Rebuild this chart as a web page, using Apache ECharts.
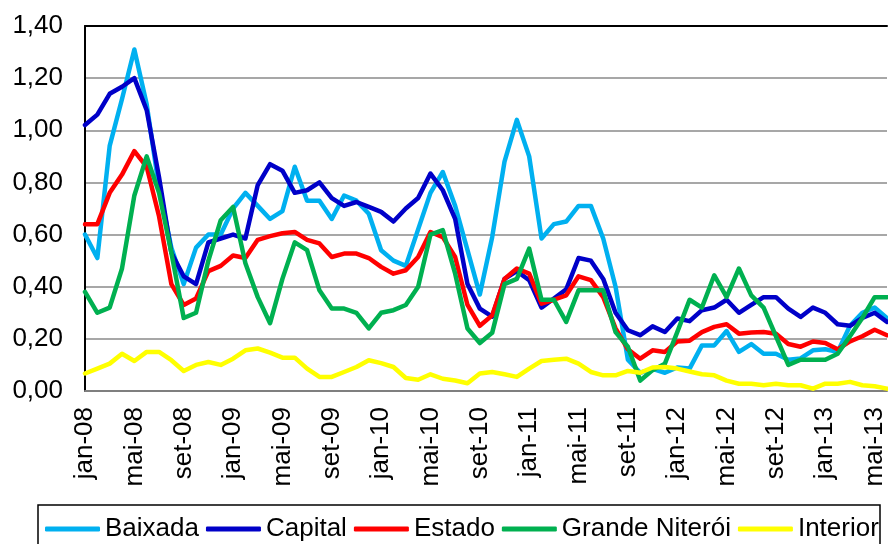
<!DOCTYPE html>
<html style="height:100%">
<head>
    <meta charset="UTF-8">
    <title>Indicadores mensais</title>
    <script src="https://cdn.jsdelivr.net/npm/echarts@6/dist/echarts.min.js"></script>
</head>
<body style="height:100%;margin:0">
<div id="main" style="width:888px;height:544px"></div>
<script>
// meses (jan-08 .. jun-13)
var meses = ['jan', 'fev', 'mar', 'abr', 'mai', 'jun', 'jul', 'ago', 'set', 'out', 'nov', 'dez'];
var anos = ['08', '09', '10', '11', '12', '13'];
var categorias = [];
for (var a = 0; a < anos.length; a++) {
    for (var m = 0; m < 12; m++) {
        if (a == anos.length - 1 && m > 5) break;
        categorias.push(meses[m] + '-' + anos[a]);
    }
}

var baixada = [0.60, 0.51, 0.94, 1.12, 1.31, 1.10, 0.78, 0.55, 0.41, 0.55, 0.60, 0.60,
    0.70, 0.76, 0.71, 0.66, 0.69, 0.86, 0.73, 0.73, 0.66, 0.75, 0.73, 0.68,
    0.54, 0.50, 0.48, 0.62, 0.76, 0.84, 0.71, 0.54, 0.37, 0.59, 0.88, 1.04,
    0.90, 0.585, 0.64, 0.65, 0.71, 0.71, 0.585, 0.40, 0.12, 0.07, 0.085, 0.07,
    0.09, 0.086, 0.175, 0.175, 0.23, 0.15, 0.18, 0.143, 0.143, 0.12, 0.125, 0.156,
    0.16, 0.15, 0.25, 0.30, 0.32, 0.28];
var capital = [1.02, 1.06, 1.14, 1.167, 1.20, 1.077, 0.82, 0.53, 0.44, 0.41, 0.57, 0.585,
    0.60, 0.585, 0.79, 0.87, 0.845, 0.76, 0.77, 0.80, 0.74, 0.71, 0.725, 0.706,
    0.687, 0.65, 0.70, 0.74, 0.834, 0.77, 0.66, 0.41, 0.316, 0.285, 0.43, 0.46,
    0.425, 0.32, 0.355, 0.39, 0.51, 0.50, 0.43, 0.30, 0.233, 0.214, 0.248, 0.226,
    0.278, 0.268, 0.31, 0.32, 0.35, 0.30, 0.33, 0.36, 0.36, 0.316, 0.284, 0.32,
    0.30, 0.256, 0.25, 0.28, 0.30, 0.265];
var estado = [0.64, 0.64, 0.76, 0.83, 0.92, 0.86, 0.67, 0.41, 0.33, 0.355, 0.46, 0.48,
    0.52, 0.51, 0.58, 0.594, 0.605, 0.61, 0.58, 0.566, 0.514, 0.527, 0.527, 0.51,
    0.476, 0.45, 0.463, 0.514, 0.61, 0.59, 0.514, 0.33, 0.25, 0.29, 0.43, 0.47,
    0.45, 0.335, 0.35, 0.367, 0.44, 0.425, 0.36, 0.24, 0.16, 0.124, 0.156, 0.15,
    0.19, 0.193, 0.226, 0.246, 0.256, 0.22, 0.224, 0.226, 0.22, 0.18, 0.17, 0.19,
    0.184, 0.16, 0.19, 0.21, 0.235, 0.214];
var grandeNiteroi = [0.38, 0.30, 0.32, 0.47, 0.75, 0.90, 0.76, 0.53, 0.28, 0.30, 0.50, 0.655,
    0.706, 0.49, 0.36, 0.26, 0.43, 0.57, 0.54, 0.386, 0.316, 0.316, 0.30, 0.24,
    0.30, 0.31, 0.33, 0.40, 0.60, 0.617, 0.45, 0.24, 0.184, 0.223, 0.41, 0.43,
    0.546, 0.35, 0.35, 0.265, 0.386, 0.386, 0.386, 0.226, 0.17, 0.04, 0.08, 0.105,
    0.226, 0.35, 0.32, 0.444, 0.36, 0.47, 0.367, 0.32, 0.21, 0.10, 0.12, 0.12,
    0.12, 0.143, 0.21, 0.28, 0.36, 0.36];
var interior = [0.067, 0.086, 0.105, 0.143, 0.115, 0.15, 0.15, 0.118, 0.077, 0.10, 0.111, 0.10,
    0.124, 0.156, 0.163, 0.147, 0.128, 0.128, 0.086, 0.054, 0.054, 0.073, 0.092, 0.118,
    0.107, 0.092, 0.05, 0.043, 0.064, 0.047, 0.04, 0.03, 0.067, 0.073, 0.064, 0.054,
    0.086, 0.115, 0.12, 0.124, 0.105, 0.073, 0.06, 0.06, 0.077, 0.07, 0.09, 0.092,
    0.086, 0.075, 0.064, 0.06, 0.04, 0.028, 0.028, 0.022, 0.028, 0.022, 0.022, 0.009,
    0.028, 0.028, 0.035, 0.022, 0.018, 0.009];

var nomes = ['Baixada', 'Capital', 'Estado', 'Grande Niterói', 'Interior'];
var cores = ['#00B0F0', '#0000C8', '#FF0000', '#00B050', '#FFFF00'];
var valores = [baixada, capital, estado, grandeNiteroi, interior];

var fonte = '"Liberation Sans", Arial, sans-serif';

var chart = echarts.init(document.getElementById('main'), null, { renderer: 'canvas' });

var series = nomes.map(function (nome, i) {
    return {
        name: nome,
        type: 'line',
        data: valores[i],
        showSymbol: false,
        symbol: 'none',
        animation: false,
        lineStyle: { color: cores[i], width: 4.5, cap: 'round', join: 'round' },
        itemStyle: { color: cores[i] }
    };
});

var option = {
    backgroundColor: '#ffffff',
    animation: false,
    color: cores,
    grid: { left: 85, right: 1, top: 26, bottom: 153 },
    xAxis: [
        {
            type: 'category',
            data: categorias,
            boundaryGap: false,
            axisLine: { lineStyle: { color: '#7f7f7f', width: 2 } },
            axisTick: { show: false },
            axisLabel: {
                interval: 3,
                rotate: 90,
                margin: 16,
                color: '#000',
                fontSize: 26,
                fontFamily: fonte
            },
            splitLine: { show: false }
        },
        {
            type: 'category',
            data: categorias,
            position: 'top',
            boundaryGap: false,
            axisLine: { lineStyle: { color: '#000', width: 2 } },
            axisTick: { show: false },
            axisLabel: { show: false },
            splitLine: { show: false }
        }
    ],
    yAxis: {
        type: 'value',
        min: 0,
        max: 1.4,
        interval: 0.2,
        axisLine: { show: true, lineStyle: { color: '#000', width: 2 } },
        axisTick: { show: false },
        axisLabel: {
            margin: 22,
            color: '#000',
            fontSize: 26,
            fontFamily: fonte,
            formatter: function (v) { return v.toFixed(2).replace('.', ','); }
        },
        splitLine: { lineStyle: { color: '#8a8a8a', width: 1.5 } }
    },
    legend: {
        data: nomes,
        left: 45,
        top: 516,
        padding: 0,
        itemGap: 7,
        itemWidth: 55,
        itemHeight: 5,
        icon: 'roundRect',
        textStyle: { color: '#000', fontSize: 26, fontFamily: fonte }
    },
    graphic: [
        {
            type: 'rect',
            shape: { x: 38, y: 505, width: 842, height: 50 },
            style: { fill: 'none', stroke: '#000', lineWidth: 1.5 },
            silent: true
        }
    ],
    series: series
};

chart.setOption(option);
</script>
</body>
</html>
